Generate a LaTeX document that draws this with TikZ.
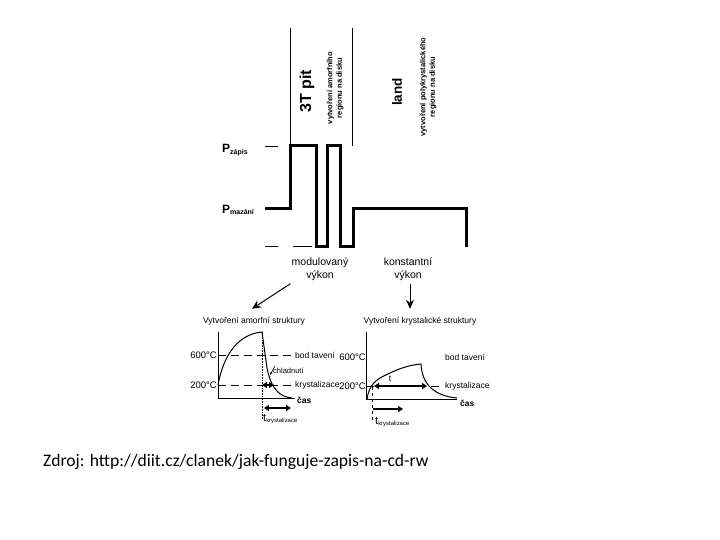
\documentclass[tikz,border=0pt]{standalone}
\usepackage{fontspec}
\setmainfont{Liberation Sans}
\newfontfamily\srcfont{Carlito}
\usetikzlibrary{positioning,arrows.meta}

\begin{document}
\begin{tikzpicture}[x=1pt, y=-1pt, every node/.style={inner sep=0pt, font=\fontsize{8.5}{10}\selectfont},
    wave/.style={line width=3pt, line join=miter},
    lvl/.style={line width=0.6pt},
    tempdash/.style={line width=0.6pt, dash pattern=on 8pt off 5pt},
    boldarrow/.style={line width=2.2pt, {Triangle[length=5pt,width=6pt]}-{Triangle[length=5pt,width=6pt]}},
    bigtip/.style={-{Stealth[length=9pt,width=8pt]}, line width=1pt},
    rot/.style={rotate=90, align=center}]
    \useasboundingbox (0,0) rectangle (720,540);

    % pit / land regions on top
    \draw[lvl] (290,28) -- (290,146);
    \draw[lvl] (352,28) -- (352,146);
    \node (pit) [rot, font=\fontsize{16}{18}\bfseries] at (307,91) {3T pit};
    \node (pittext) [rot, font=\fontsize{7.5}{9.5}\bfseries] at (335,88) {vytvoření amorfního\\ regionu na disku};
    \node (land) [rot, font=\fontsize{13.5}{15}\bfseries] at (397,92) {land};
    \node (landtext) [rot, font=\fontsize{7.5}{9.5}\bfseries] at (428,87) {vytvoření polykrystalického\\ regionu na disku};

    % power levels
    \node (zapis) [anchor=west, font=\fontsize{12}{13}\bfseries] at (222,150) {P\textsubscript{\fontsize{7}{8}\selectfont zápis}};
    \node (mazani) [anchor=west, font=\fontsize{12}{13}\bfseries] at (222,210) {P\textsubscript{\fontsize{7}{8}\selectfont mazání}};
    \draw[lvl] (265,146) -- (278,146);
    \draw[lvl] (265,246) -- (278,246);
    \draw[lvl] (293,246) -- (312,246);

    % laser power pulses
    \draw[wave] (265,209) -| (290,146) -| (316,246) -| (327,146) -| (340,246) -| (353,209) -| (466,247);

    \node (modul) [align=center, font=\fontsize{10.5}{13}\selectfont] at (320,269) {modulovaný\\ výkon};
    \node (konst) [align=center, font=\fontsize{10.5}{13}\selectfont] at (408,269) {konstantní\\ výkon};

    % graph titles
    \node (amorf) at (254,321) {Vytvoření amorfní struktury};
    \node (krystal) at (420,321) {Vytvoření krystalické struktury};

    \draw[bigtip] ([shift={(-1,3)}]modul.south west) -- ([shift={(-2,-8)}]amorf.north);
    \draw[bigtip] ([shift={(2,3)}]konst.south) -- ([shift={(2,-8)}]konst.south |- krystal.north);

    % left graph: amorphous
    \draw[lvl] (218,332) -- (218,398) -- (295,398);
    \node (l600) [anchor=east, font=\fontsize{9.5}{10}\selectfont] at (217,355) {600°C};
    \node (l200) [anchor=east, font=\fontsize{9.5}{10}\selectfont] at (217,385) {200°C};
    \draw[tempdash] (218,355) -- (293,355);
    \draw[tempdash] (218,385) -- (293,385);
    \node (ltav) [anchor=west] at (295,355) {bod tavení};
    \node (lkry) [anchor=west] at (295,385) {krystalizace};
    \draw[line width=1pt] (218,385) .. controls (224,352) and (240,334) .. (262,332)
        -- (267,368) .. controls (271,388) and (279,397) .. (292,398);
    \draw[line width=0.6pt, densely dotted] (262,332) -- (262,420);
    \draw[-{Stealth[length=3pt]}, line width=0.6pt] (275,366) -- (270,375);
    \node (lchl) [anchor=west, font=\fontsize{7.5}{9}\selectfont] at (273,371) {chladnutí};
    \draw[boldarrow] (262,385) -- (274,385);
    \draw[boldarrow] (264,408) -- (291,408);
    \node (lcas) [anchor=west, font=\fontsize{8.5}{10}\bfseries] at (297,400) {čas};
    \node (ltk) [anchor=west] at (263,419) {{\fontsize{11}{12}\selectfont t}\textsubscript{krystalizace}};

    % right graph: crystalline
    \draw[lvl] (366,332) -- (366,399) -- (457,399);
    \node (r600) [anchor=east, font=\fontsize{9.5}{10}\selectfont] at (366,357) {600°C};
    \node (r200) [anchor=east, font=\fontsize{9.5}{10}\selectfont] at (366,386) {200°C};
    \node (rtav) [anchor=west] at (445,357) {bod tavení};
    \draw[tempdash] (366,386) -- (442,386);
    \node (rkry) [anchor=west] at (445,386) {krystalizace};
    \draw[line width=1pt] (367,399) .. controls (369,385) and (376,379) .. (388,374)
        .. controls (400,368) and (410,365) .. (421,364)
        .. controls (422,385) and (435,396) .. (457,398);
    \draw[boldarrow] (374,386) -- (427,386);
    \node (rt) at (390,379) {t};
    \draw[line width=0.6pt, dashed] (372,387) -- (372,421);
    \draw[line width=2.2pt, -{Triangle[length=5pt,width=6pt]}] (373,409) -- (403,409);
    \node (rcas) [anchor=west, font=\fontsize{8.5}{10}\bfseries] at (460,403) {čas};
    \node (rtk) [anchor=west] at (375,422) {{\fontsize{11}{12}\selectfont t}\textsubscript{krystalizace}};

    % source
    \node (src) [anchor=west, font=\srcfont\fontsize{17.6}{20}\selectfont] at (43,462) {Zdroj: http://diit.cz/clanek/jak-funguje-zapis-na-cd-rw};
\end{tikzpicture}
\end{document}
